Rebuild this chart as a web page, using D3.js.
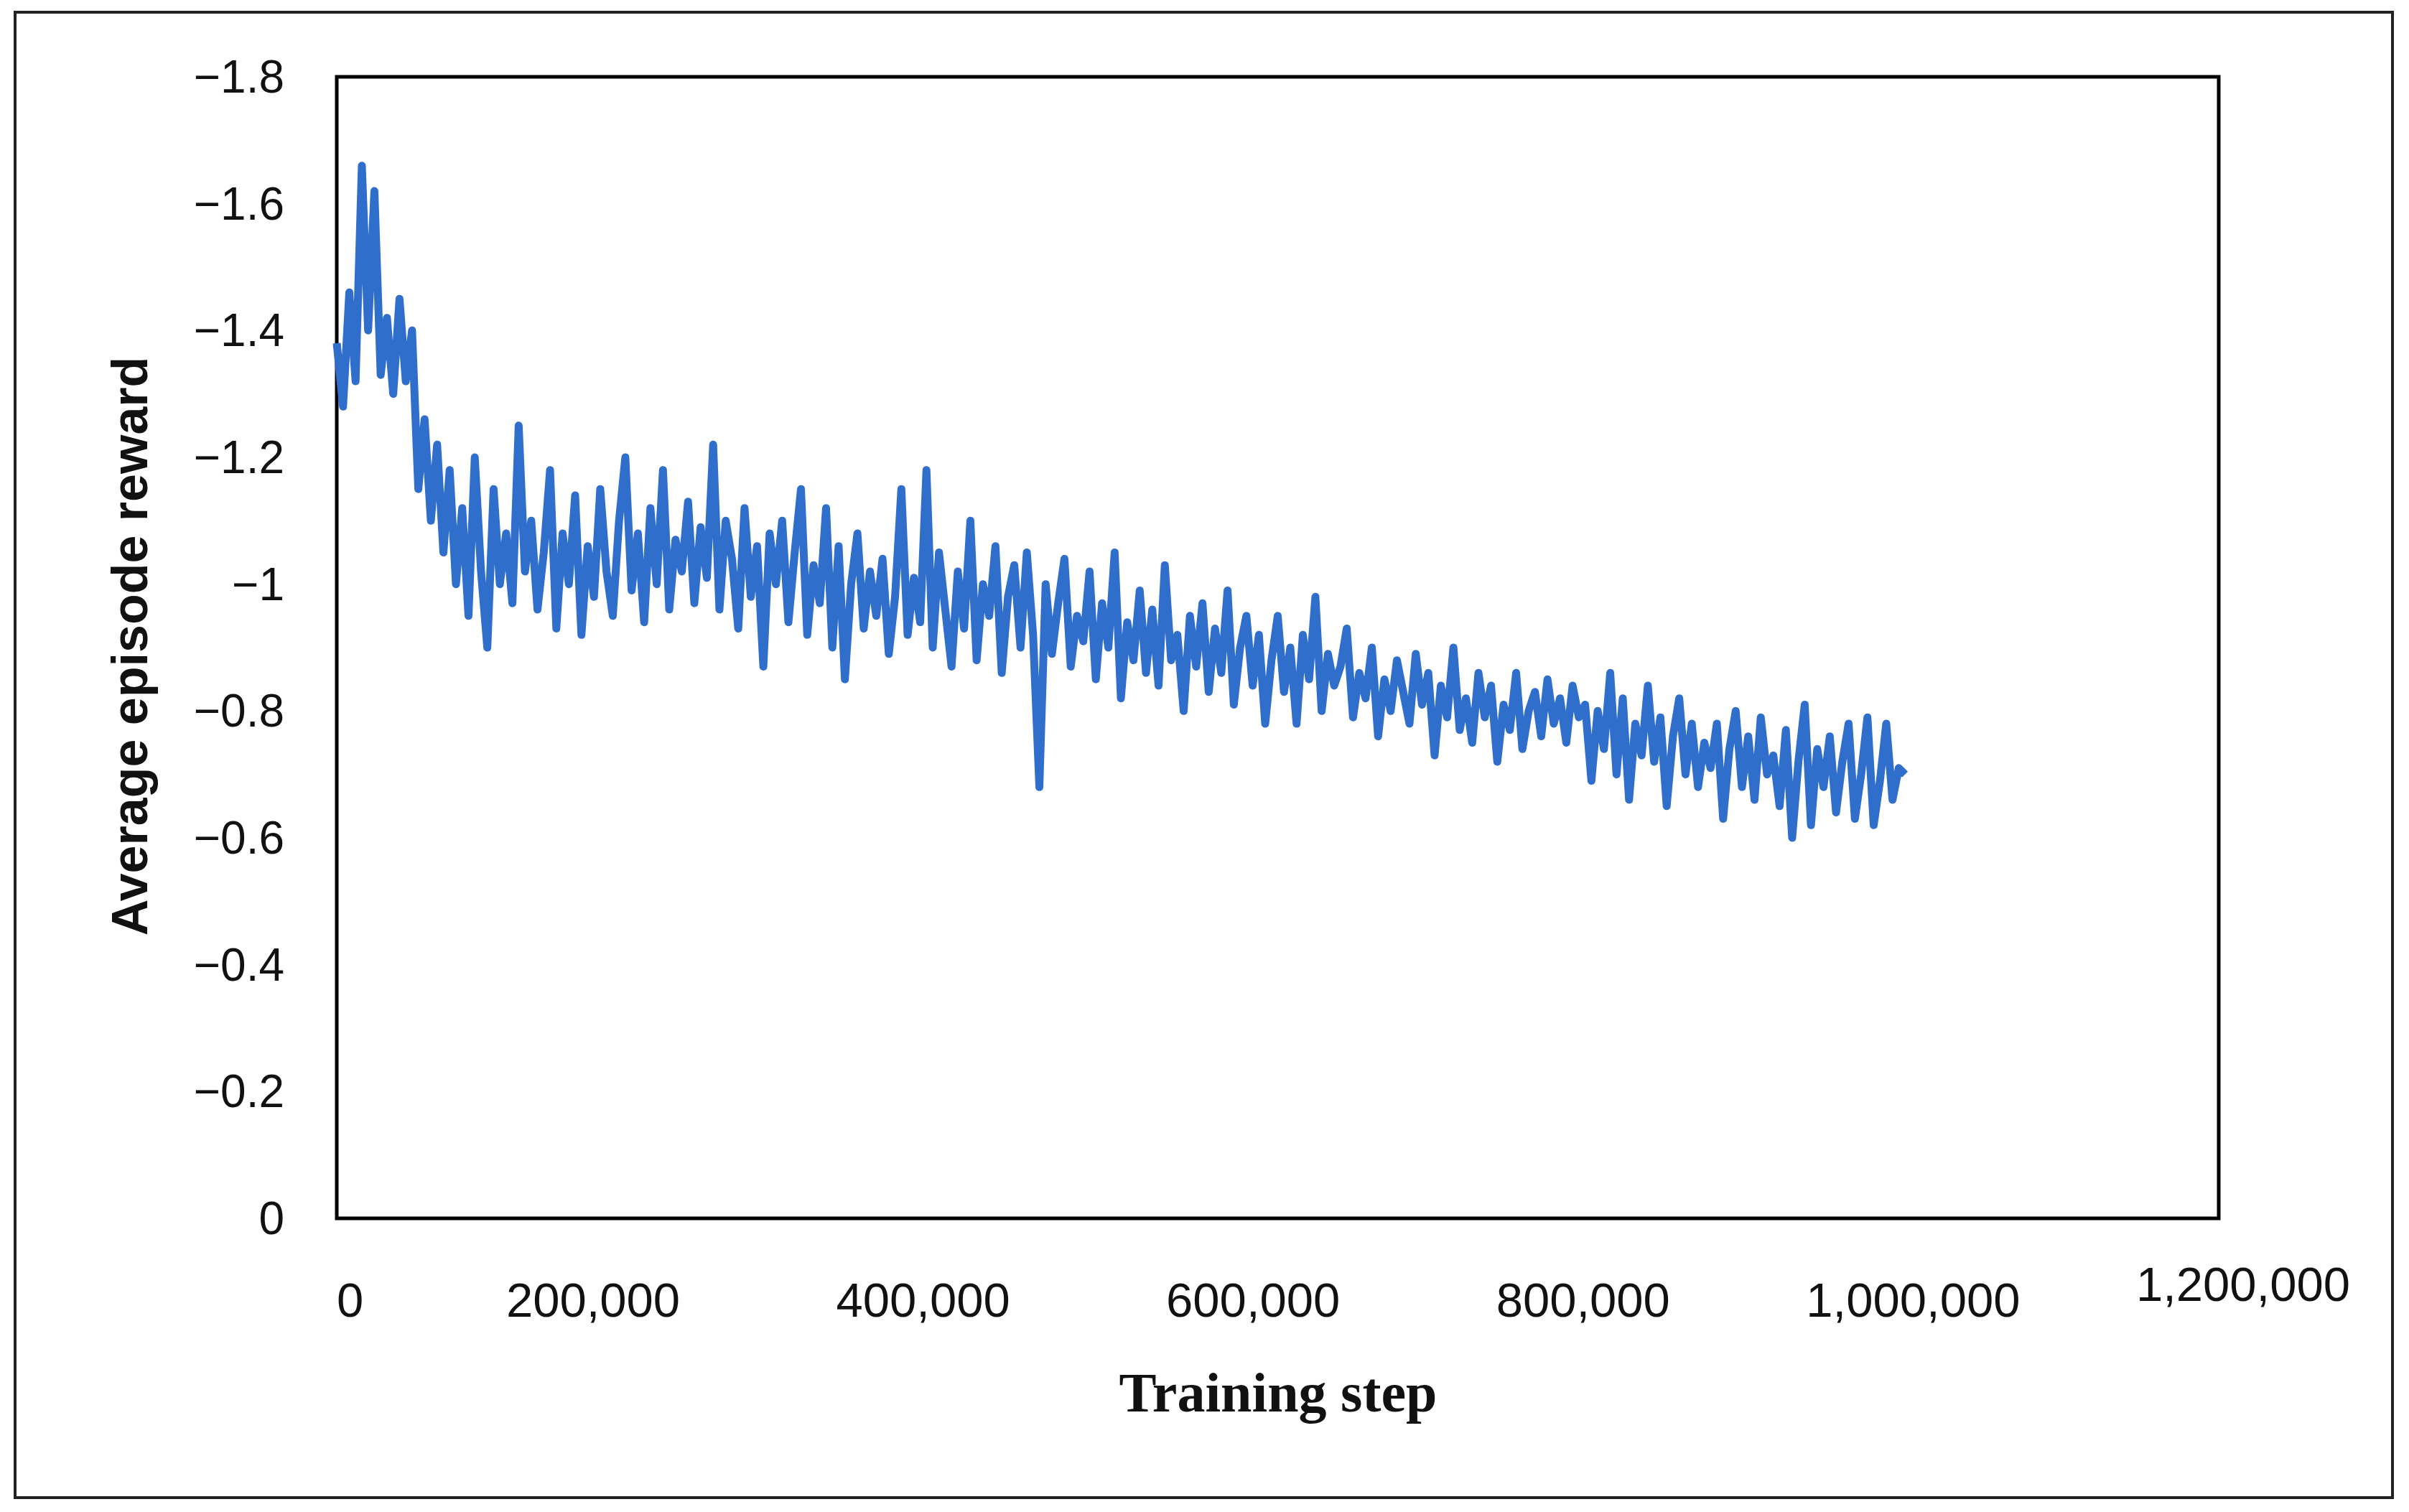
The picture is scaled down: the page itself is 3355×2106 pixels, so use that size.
<!DOCTYPE html>
<html><head><meta charset="utf-8">
<script src="https://cdn.jsdelivr.net/npm/d3@7"></script>
<style>body{margin:0;background:#fff}</style></head>
<body><svg id="c" width="3355" height="2106"></svg>
<script>
const stepSize = 4000;
const rewards = [
-1.38,-1.28,-1.46,-1.32,-1.66,-1.40,-1.62,-1.33,-1.42,-1.30,
-1.45,-1.32,-1.40,-1.15,-1.26,-1.10,-1.22,-1.05,-1.18,-1.00,
-1.12,-0.95,-1.20,-1.02,-0.90,-1.15,-1.00,-1.08,-0.97,-1.25,
-1.02,-1.10,-0.96,-1.05,-1.18,-0.93,-1.08,-1.00,-1.14,-0.92,
-1.06,-0.98,-1.15,-1.02,-0.95,-1.10,-1.20,-0.99,-1.08,-0.94,
-1.12,-1.00,-1.18,-0.96,-1.07,-1.02,-1.13,-0.97,-1.09,-1.01,
-1.22,-0.96,-1.10,-1.04,-0.93,-1.12,-0.98,-1.06,-0.87,-1.08,
-1.00,-1.10,-0.94,-1.05,-1.15,-0.92,-1.03,-0.97,-1.12,-0.90,
-1.06,-0.85,-1.00,-1.08,-0.93,-1.02,-0.95,-1.04,-0.89,-0.98,
-1.15,-0.92,-1.01,-0.94,-1.18,-0.90,-1.05,-0.96,-0.87,-1.02,
-0.93,-1.10,-0.88,-1.00,-0.95,-1.06,-0.86,-0.98,-1.03,-0.90,
-1.05,-0.92,-0.68,-1.00,-0.89,-0.97,-1.04,-0.87,-0.95,-0.91,
-1.02,-0.85,-0.97,-0.90,-1.05,-0.82,-0.94,-0.88,-0.99,-0.86,
-0.96,-0.84,-1.03,-0.88,-0.92,-0.80,-0.95,-0.87,-0.97,-0.83,
-0.93,-0.86,-0.99,-0.81,-0.90,-0.95,-0.84,-0.92,-0.78,-0.88,
-0.95,-0.83,-0.90,-0.78,-0.92,-0.85,-0.98,-0.80,-0.89,-0.84,
-0.87,-0.93,-0.79,-0.86,-0.82,-0.90,-0.76,-0.85,-0.80,-0.88,
-0.83,-0.78,-0.89,-0.81,-0.86,-0.73,-0.84,-0.79,-0.90,-0.77,
-0.82,-0.75,-0.86,-0.79,-0.84,-0.72,-0.81,-0.77,-0.86,-0.74,
-0.80,-0.83,-0.76,-0.85,-0.78,-0.82,-0.75,-0.84,-0.79,-0.81,
-0.69,-0.80,-0.74,-0.86,-0.70,-0.82,-0.66,-0.78,-0.73,-0.84,
-0.72,-0.79,-0.65,-0.76,-0.82,-0.70,-0.78,-0.68,-0.75,-0.71,
-0.78,-0.63,-0.74,-0.80,-0.68,-0.76,-0.66,-0.79,-0.70,-0.73,
-0.65,-0.77,-0.60,-0.72,-0.81,-0.62,-0.74,-0.68,-0.76,-0.64,
-0.72,-0.78,-0.63,-0.70,-0.79,-0.62,-0.69,-0.78,-0.66,-0.71,
-0.70];
const xTicks = [0,200000,400000,600000,800000,1000000,1200000];
const xTickLabels = ["0","200,000","400,000","600,000","800,000","1,000,000","1,200,000"];
const yTicks = [0,-0.2,-0.4,-0.6,-0.8,-1,-1.2,-1.4,-1.6,-1.8];
const yTickLabels = ["0","\u22120.2","\u22120.4","\u22120.6","\u22120.8","\u22121","\u22121.2","\u22121.4","\u22121.6","\u22121.8"];

const svg = d3.select("#c");
const L=469,T=107,R=3090,B=1697;
const x = d3.scaleLinear().domain([0,1200000]).range([L,R]);
const xLab = d3.scaleLinear().domain([200000,1200000]).range([826,3124]);
const y = d3.scaleLinear().domain([0,-1.8]).range([B,T]);

svg.append("rect").attr("x",21).attr("y",17).attr("width",3311).attr("height",2069)
  .attr("fill","none").attr("stroke","#222").attr("stroke-width",4);
svg.append("rect").attr("x",L).attr("y",T).attr("width",R-L).attr("height",B-T)
  .attr("fill","none").attr("stroke","#000").attr("stroke-width",5);

const data = rewards.map((v,i)=>({s:i*stepSize,v}));
svg.append("path").datum(data)
  .attr("d", d3.line().x(d=>x(d.s)).y(d=>y(d.v)))
  .attr("fill","none").attr("stroke","#2f6fcb").attr("stroke-width",11).attr("stroke-linejoin","round");

svg.selectAll(".yt").data(yTicks).enter().append("text")
  .attr("x",396).attr("y",d=>y(d)+22).attr("text-anchor","end")
  .attr("font-family","Liberation Sans, Arial, sans-serif").attr("font-size",64).attr("fill","#111")
  .text((d,i)=>yTickLabels[i]);

svg.selectAll(".xt").data(xTicks).enter().append("text")
  .attr("x",d=>d===0?L:xLab(d)).attr("y",(d,i)=>i===6?1812:1834)
  .attr("text-anchor",d=>d===0?"start":"middle")
  .attr("font-family","Liberation Sans, Arial, sans-serif").attr("font-size",67).attr("fill","#111")
  .text((d,i)=>xTickLabels[i]);

svg.append("text").attr("transform","translate(205,900) rotate(-90)").attr("text-anchor","middle")
  .attr("font-family","Liberation Sans, Arial, sans-serif").attr("font-weight","bold").attr("font-size",70)
  .attr("fill","#111").text("Average episode reward");
svg.append("text").attr("x",1780).attr("y",1966).attr("text-anchor","middle")
  .attr("font-family","Liberation Serif, Times New Roman, serif").attr("font-weight","bold").attr("font-size",78)
  .attr("fill","#111").text("Training step");
</script></body></html>
